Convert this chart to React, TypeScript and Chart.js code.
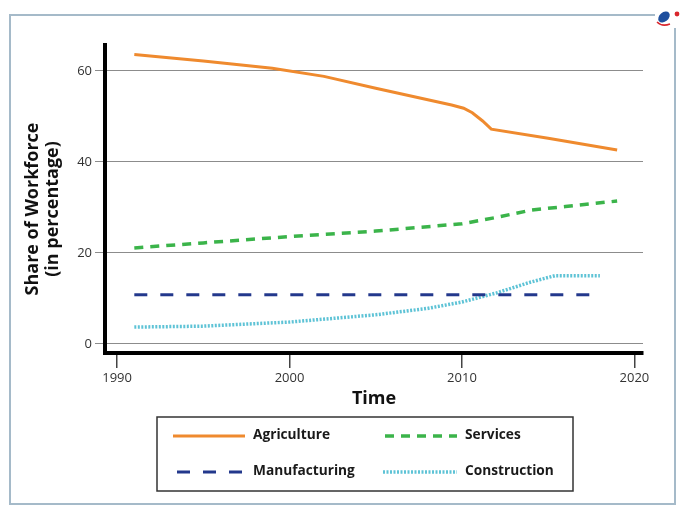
import React, { useEffect, useRef } from "react";
import { Chart, registerables } from "chart.js";
Chart.register(...registerables);

const FONT = "'Open Sans', 'DejaVu Sans', sans-serif";

const xTicks = [1990, 2000, 2010, 2020];
const yTicks = [0, 20, 40, 60];
const yTitleLines = ["Share of Workforce", "(in percentage)"];

const agricultureYears = [1991, 1995, 1999, 2002, 2005, 2009.4, 2010.1, 2010.6, 2011.2, 2011.7, 2015, 2019];
const agricultureValues = [63.6, 62.2, 60.6, 58.8, 56.2, 52.5, 51.8, 50.8, 49.0, 47.2, 45.2, 42.6];

const servicesYears = [1991, 1995, 2000, 2005, 2010, 2012, 2014, 2016, 2019];
const servicesValues = [21.1, 22.2, 23.6, 24.8, 26.4, 27.8, 29.4, 30.2, 31.4];

const manufacturingYears = [1991, 2018];
const manufacturingValues = [10.8, 10.8];

const constructionYears = [1991, 1995, 2000, 2005, 2008, 2010, 2012, 2014, 2015.4, 2018];
const constructionValues = [3.7, 3.9, 4.8, 6.4, 7.8, 9.2, 11.2, 13.6, 15.0, 15.0];

const seriesNames = ["Agriculture", "Services", "Manufacturing", "Construction"];

const pts = (xs: number[], ys: number[]) => xs.map((x, i) => ({ x, y: ys[i] }));

const framePlugin = {
  id: "frame",
  beforeDraw(chart: any) {
    const ctx = chart.ctx;
    ctx.save();
    ctx.fillStyle = "#fff";
    ctx.fillRect(0, 0, chart.width, chart.height);
    ctx.restore();
  },
  afterDraw(chart: any) {
    const ctx = chart.ctx;
    ctx.save();
    // outer frame
    ctx.strokeStyle = "#a5bac9";
    ctx.lineWidth = 2;
    ctx.beginPath();
    ctx.moveTo(655, 15);
    ctx.lineTo(10, 15);
    ctx.lineTo(10, 504);
    ctx.lineTo(675, 504);
    ctx.lineTo(675, 28);
    ctx.stroke();
    // logo
    ctx.fillStyle = "#1f4f9e";
    ctx.beginPath();
    ctx.ellipse(664, 17, 6.5, 4.5, -0.7, 0, Math.PI * 2);
    ctx.fill();
    ctx.fillStyle = "#d9262c";
    ctx.beginPath();
    ctx.arc(677, 14, 2.4, 0, Math.PI * 2);
    ctx.fill();
    ctx.strokeStyle = "#d9262c";
    ctx.lineWidth = 1.5;
    ctx.beginPath();
    ctx.moveTo(657, 22);
    ctx.quadraticCurveTo(662, 27, 670, 24);
    ctx.stroke();

    // y-axis title
    ctx.save();
    ctx.translate(33, 209);
    ctx.rotate(-Math.PI / 2);
    ctx.fillStyle = "#111";
    ctx.font = `bold 18px ${FONT}`;
    ctx.textAlign = "center";
    ctx.textBaseline = "middle";
    yTitleLines.forEach((t, i) => ctx.fillText(t, 0, i * 20));
    ctx.restore();

    // legend
    ctx.strokeStyle = "#333";
    ctx.lineWidth = 1.5;
    ctx.strokeRect(157, 417, 416, 74);
    const items = [
      { ds: 0, x1: 173, x2: 245, y: 436, tx: 253 },
      { ds: 1, x1: 385, x2: 457, y: 436, tx: 465 },
      { ds: 2, x1: 177, x2: 245, y: 472, tx: 253 },
      { ds: 3, x1: 383, x2: 457, y: 472, tx: 465 },
    ];
    items.forEach((it) => {
      const d = chart.data.datasets[it.ds];
      ctx.strokeStyle = d.borderColor;
      ctx.lineWidth = d.borderWidth;
      ctx.setLineDash(d.borderDash || []);
      ctx.beginPath();
      ctx.moveTo(it.x1, it.y);
      ctx.lineTo(it.x2, it.y);
      ctx.stroke();
      ctx.setLineDash([]);
      ctx.fillStyle = "#1a1a1a";
      ctx.font = `bold 13.7px ${FONT}`;
      ctx.textBaseline = "middle";
      ctx.textAlign = "left";
      ctx.fillText(d.label, it.tx, it.y - 1);
    });
    ctx.restore();
  },
};

export default function App() {
  const ref = useRef<HTMLCanvasElement>(null);
  useEffect(() => {
    const chart = new Chart(ref.current!, {
      type: "line",
      data: {
        datasets: [
          {
            label: seriesNames[0],
            data: pts(agricultureYears, agricultureValues),
            borderColor: "#ef8a2e",
            borderWidth: 3,
            pointRadius: 0,
            tension: 0,
          },
          {
            label: seriesNames[1],
            data: pts(servicesYears, servicesValues),
            borderColor: "#3bb44a",
            borderWidth: 3.5,
            borderDash: [9, 7],
            pointRadius: 0,
            tension: 0,
          },
          {
            label: seriesNames[2],
            data: pts(manufacturingYears, manufacturingValues),
            borderColor: "#23388c",
            borderWidth: 3,
            borderDash: [13, 13],
            pointRadius: 0,
            tension: 0,
          },
          {
            label: seriesNames[3],
            data: pts(constructionYears, constructionValues),
            borderColor: "#5ec3d6",
            borderWidth: 3.5,
            borderDash: [2, 1.5],
            pointRadius: 0,
            tension: 0,
          },
        ],
      } as any,
      options: {
        animation: false,
        responsive: false,
        devicePixelRatio: 1,
        layout: { padding: { left: 0, top: 45, right: 40, bottom: 105 } },
        plugins: { legend: { display: false }, tooltip: { enabled: false } },
        scales: {
          x: {
            type: "linear",
            min: 1989.3,
            max: 2020.5,
            afterBuildTicks: (s: any) => {
              s.ticks = xTicks.map((v) => ({ value: v }));
            },
            afterFit: (s: any) => {
              s.height = 57;
            },
            grid: { drawOnChartArea: false, drawTicks: true, tickLength: 15, color: "#444", lineWidth: 1.5 },
            border: { display: true, color: "#000", width: 4 },
            ticks: {
              color: "#333",
              font: { size: 13, family: FONT },
              padding: 2,
              maxRotation: 0,
              callback: (v: any) => String(v),
            },
            title: {
              display: true,
              text: "Time",
              color: "#111",
              font: { size: 18, weight: "bold", family: FONT },
              padding: { top: 0, bottom: 0 },
            },
          },
          y: {
            type: "linear",
            min: -2,
            max: 65.7,
            afterBuildTicks: (s: any) => {
              s.ticks = yTicks.map((v) => ({ value: v }));
            },
            afterFit: (s: any) => {
              s.width = 105;
            },
            grid: { color: "#8c8c8c", lineWidth: 1, tickLength: 10, drawTicks: true },
            border: { display: true, color: "#000", width: 4 },
            ticks: { color: "#333", font: { size: 13, family: FONT }, padding: 3 },
            title: { display: false },
          },
        },
      } as any,
      plugins: [framePlugin],
    });
    return () => chart.destroy();
  }, []);
  return (
    <div style={{ position: "absolute", left: 0, top: 0, width: 683, height: 515, background: "#fff" }}>
      <canvas ref={ref} width={683} height={515} style={{ width: 683, height: 515, display: "block" }} />
    </div>
  );
}
